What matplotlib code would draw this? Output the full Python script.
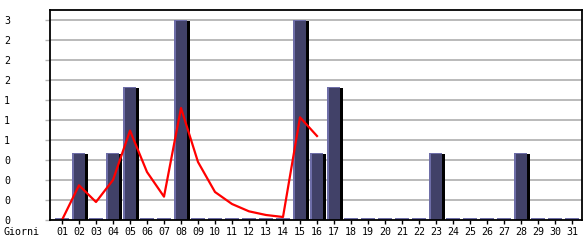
import matplotlib
matplotlib.use("Agg")
import matplotlib.pyplot as plt
import numpy as np

days = [f"{d:02d}" for d in range(1, 32)]
hits = [0, 1, 0, 1, 2, 0, 0, 3, 0, 0, 0, 0, 0, 0, 3, 1, 2, 0, 0, 0, 0, 0, 1, 0, 0, 0, 0, 1, 0, 0, 0]
trend = [0, 0.52, 0.27, 0.6, 1.34, 0.72, 0.35, 1.68, 0.87, 0.42, 0.24, 0.13, 0.075, 0.045, 1.54, 1.26]
ytick_vals = [0, 0.3, 0.6, 0.9, 1.2, 1.5, 1.8, 2.1, 2.4, 2.7, 3.0]
ytick_labels = ["0", "0", "0", "0", "1", "1", "1", "2", "2", "2", "3"]
xlabel_text = "Giorni"

W, H = 585, 240
fig = plt.figure(figsize=(W / 100, H / 100), dpi=100)
ax = fig.add_axes([50 / W, 20 / H, 532 / W, 210 / H])
ax.set_axisbelow(True)

px = 1 / 17.0  # one pixel in x data units
x = np.arange(1, len(days) + 1)
vals = np.array(hits, dtype=float)

lav = "#6e6ea8"
navy = "#414168"

ax.set_xlim(1 - 12 * px, 1 + 520 * px)
ax.set_ylim(0, 3.15)
ax.set_yticks(ytick_vals)
ax.set_yticklabels(ytick_labels)
ax.set_xticks(x)
ax.set_xticklabels(days)
ax.yaxis.grid(True, color="#b4b4b4", lw=1.3)

# zero bars: thin lavender strips
zero = vals == 0
ax.bar(x[zero] - 7 * px, np.full(zero.sum(), 0.035), width=14 * px, align="edge",
       color=lav, linewidth=0, zorder=3)
nz = ~zero
# lavender body (left/top edge)
ax.bar(x[nz] - 7 * px, vals[nz], width=13 * px, align="edge", color=lav, linewidth=0, zorder=3)
# navy fill
ax.bar(x[nz] - 5 * px, vals[nz] - 0.015, width=11 * px, align="edge", color=navy, linewidth=0, zorder=3.1)
# black shadow
ax.bar(x[nz] + 6 * px, vals[nz] - 0.015, width=3 * px, align="edge", color="black", linewidth=0, zorder=3.2)

ax.plot(x[:len(trend)], trend, color="#ff0000", lw=1.6, zorder=5)

font = dict(family="DejaVu Sans Mono", size=7.2)
for lab in ax.get_xticklabels() + ax.get_yticklabels():
    lab.set_fontfamily("DejaVu Sans Mono")
    lab.set_fontsize(7.2)
ax.tick_params(axis="y", length=3.6, width=1, color="#b4b4b4", pad=25)
ax.tick_params(axis="x", length=3, width=1, color="black", pad=2)
for s in ax.spines.values():
    s.set_linewidth(1.3)
    s.set_color("black")
    s.set_zorder(6)

fig.text(3 / W, 1 - 232 / H, xlabel_text, ha="left", va="center", **font)

fig.savefig("out.png", dpi=100, facecolor="white")
